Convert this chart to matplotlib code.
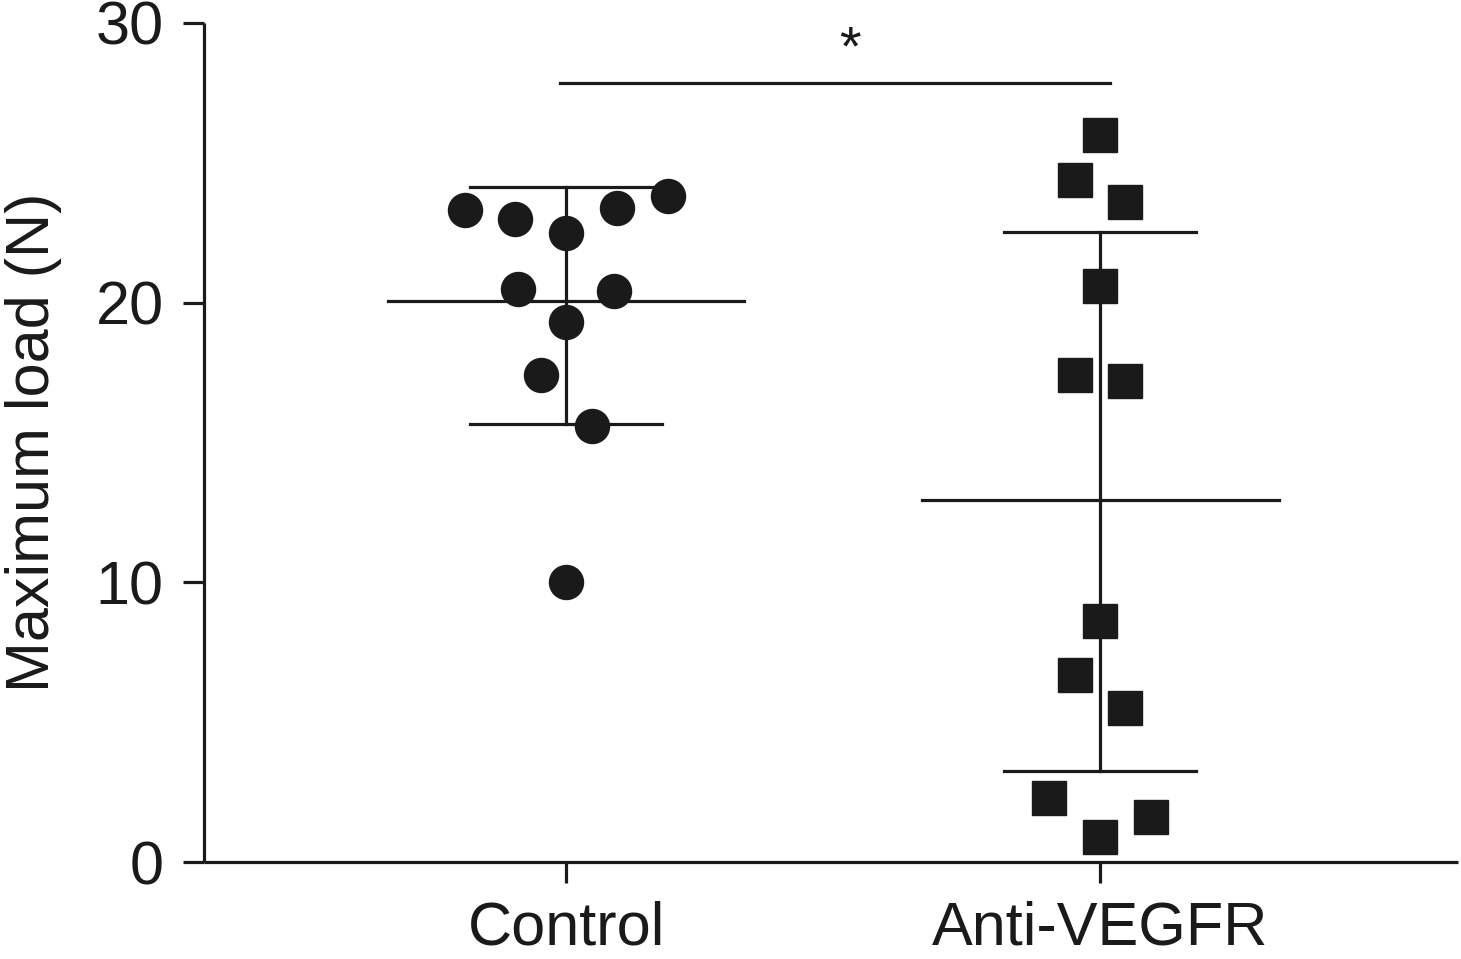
import matplotlib.pyplot as plt
import numpy as np

plt.rcParams['font.family'] = ['Liberation Sans', 'DejaVu Sans']

groups = ['Control', 'Anti-VEGFR']
# values (N)
control = [23.3, 23.0, 22.5, 23.4, 23.8, 20.5, 20.4, 19.3, 17.4, 15.6, 10.0]
control_dx = [-0.19, -0.095, 0.0, 0.095, 0.19, -0.09, 0.09, 0.0, -0.047, 0.049, 0.0]
anti = [26.0, 24.4, 23.6, 20.6, 17.4, 17.2, 8.6, 6.7, 5.5, 2.3, 1.6, 0.9]
anti_dx = [0.0, -0.047, 0.047, 0.0, -0.047, 0.047, 0.0, -0.047, 0.047, -0.095, 0.095, 0.0]
means = [20.06, 12.96]
err_hi = [24.15, 22.52]
err_lo = [15.65, 3.26]
yticks = [0, 10, 20, 30]

ink = '#1a1a1a'
lw = 2.3
fs = 44

fig = plt.figure(figsize=(14.61, 9.59), dpi=100)
ax = fig.add_axes([0.1396, 0.1011, 0.8584, 0.875])

#points
ax.plot(0 + np.array(control_dx), control, 'o', color=ink, markersize=24.5, zorder=3)
ax.plot(1 + np.array(anti_dx), anti, 's', color=ink, markersize=24, zorder=3)

#mean and sd bars
for i in range(2):
    m = means[i]
    ax.plot([i - 0.334, i + 0.334], [m, m], color=ink, lw=lw)
    ax.plot([i, i], [err_lo[i], err_hi[i]], color=ink, lw=lw)
    ax.plot([i - 0.18, i + 0.18], [err_hi[i], err_hi[i]], color=ink, lw=lw)
    ax.plot([i - 0.18, i + 0.18], [err_lo[i], err_lo[i]], color=ink, lw=lw)

#significance
ax.plot([-0.011, 1.019], [27.86, 27.86], color=ink, lw=lw)
ax.text(0.532, 29.0, '*', ha='center', va='center', fontsize=40, color=ink)

ax.set_xlim(-0.678, 1.670)
ax.set_ylim(0, 30)
ax.set_xticks([0, 1])
ax.set_xticklabels(groups)
ax.set_yticks(yticks)
ax.spines['top'].set_visible(False)
ax.spines['right'].set_visible(False)
for sp in ['left', 'bottom']:
    ax.spines[sp].set_linewidth(lw)
    ax.spines[sp].set_color(ink)
    ax.spines[sp].set_capstyle('butt')
ax.tick_params(axis='y', length=15, width=lw, color=ink, labelsize=fs, pad=14, labelcolor=ink)
ax.tick_params(axis='x', length=15, width=lw, color=ink, labelsize=fs, pad=13, labelcolor=ink)
ax.set_ylabel('Maximum load (N)', fontsize=fs, color=ink, labelpad=24)
for sp in ['left', 'bottom']:
    ax.spines[sp].set_clip_on(False)

fig.savefig('out.png', dpi=100)
